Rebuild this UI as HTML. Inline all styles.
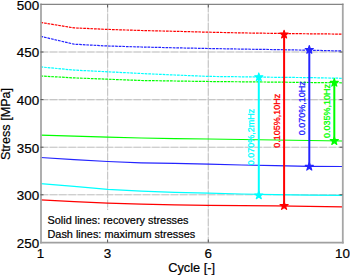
<!DOCTYPE html>
<html><head><meta charset="utf-8"><style>
html,body{margin:0;padding:0;background:#fff;}
body{width:350px;height:275px;overflow:hidden;}
svg{display:block;}
text{font-family:"Liberation Sans",sans-serif;}
</style></head><body>
<svg width="350" height="275" viewBox="0 0 350 275">
<rect x="0" y="0" width="350" height="275" fill="#fff"/>
<g stroke="#e2e2e2" stroke-width="1.1" fill="none"><line x1="40.5" y1="52.0" x2="342.5" y2="52.0"/><line x1="40.5" y1="99.6" x2="342.5" y2="99.6"/><line x1="40.5" y1="147.2" x2="342.5" y2="147.2"/><line x1="40.5" y1="194.8" x2="342.5" y2="194.8"/><line x1="107.6" y1="4.5" x2="107.6" y2="242.5"/><line x1="208.3" y1="4.5" x2="208.3" y2="242.5"/></g>
<g stroke="#c6c6c6" stroke-width="1.1" stroke-dasharray="7.5,1.8" fill="none"><line x1="40.5" y1="52.0" x2="342.5" y2="52.0"/><line x1="40.5" y1="99.6" x2="342.5" y2="99.6"/><line x1="40.5" y1="147.2" x2="342.5" y2="147.2"/><line x1="40.5" y1="194.8" x2="342.5" y2="194.8"/><line x1="107.6" y1="4.5" x2="107.6" y2="242.5"/><line x1="208.3" y1="4.5" x2="208.3" y2="242.5"/></g>
<polyline points="40.5,22.4 74.1,27.9 107.6,29.4 141.2,30.5 174.7,31.3 208.3,32.2 241.8,32.9 275.4,33.4 308.9,33.8 342.5,34.1" fill="none" stroke="#ff0000" stroke-width="1.2" stroke-dasharray="2.7,0.9"/>
<polyline points="40.5,36.3 74.1,44.2 107.6,46.0 141.2,47.0 174.7,47.8 208.3,48.5 241.8,49.1 275.4,49.6 308.9,50.2 342.5,51.0" fill="none" stroke="#2424ff" stroke-width="1.2" stroke-dasharray="2.7,0.9"/>
<polyline points="40.5,66.9 74.1,70.1 107.6,71.8 141.2,73.5 174.7,75.0 208.3,76.4 241.8,76.8 275.4,77.3 308.9,77.6 342.5,78.3" fill="none" stroke="#00ffff" stroke-width="1.2" stroke-dasharray="2.7,0.9"/>
<polyline points="40.5,76.0 74.1,77.9 107.6,79.2 141.2,80.5 174.7,81.0 208.3,81.5 241.8,81.8 275.4,82.1 308.9,82.5 342.5,82.8" fill="none" stroke="#00ff00" stroke-width="1.2" stroke-dasharray="2.7,0.9"/>
<polyline points="40.5,135.2 74.1,136.2 107.6,137.2 141.2,138.0 174.7,138.6 208.3,139.0 241.8,139.5 275.4,140.0 308.9,140.5 342.5,141.0" fill="none" stroke="#00ff00" stroke-width="1.2"/>
<polyline points="40.5,157.5 74.1,159.6 107.6,161.5 141.2,162.8 174.7,163.4 208.3,164.1 241.8,165.0 275.4,165.7 308.9,166.3 342.5,166.5" fill="none" stroke="#2424ff" stroke-width="1.2"/>
<polyline points="40.5,183.7 74.1,186.4 107.6,189.4 141.2,191.2 174.7,192.3 208.3,193.1 241.8,194.0 275.4,194.7 308.9,195.1 342.5,195.4" fill="none" stroke="#00ffff" stroke-width="1.2"/>
<polyline points="40.5,199.8 74.1,201.7 107.6,203.1 141.2,204.1 174.7,204.8 208.3,205.3 241.8,205.6 275.4,205.9 308.9,206.3 342.5,206.8" fill="none" stroke="#ff0000" stroke-width="1.2"/>
<rect x="41.5" y="210" width="158" height="32" fill="#fff"/>
<g fill="none" stroke-linecap="square"><line x1="41" y1="4.4" x2="41" y2="242.6" stroke="#a6a6a6" stroke-width="1.8"/><line x1="342.8" y1="4.4" x2="342.8" y2="242.6" stroke="#a6a6a6" stroke-width="1.8"/><line x1="41" y1="242.6" x2="342.8" y2="242.6" stroke="#a0a0a0" stroke-width="1.7"/><line x1="41" y1="4.4" x2="342.8" y2="4.4" stroke="#858585" stroke-width="1.2"/></g>
<g stroke="#555" stroke-width="1"><line x1="40.5" y1="52.0" x2="43.5" y2="52.0"/><line x1="339.5" y1="52.0" x2="342.5" y2="52.0"/><line x1="40.5" y1="99.6" x2="43.5" y2="99.6"/><line x1="339.5" y1="99.6" x2="342.5" y2="99.6"/><line x1="40.5" y1="147.2" x2="43.5" y2="147.2"/><line x1="339.5" y1="147.2" x2="342.5" y2="147.2"/><line x1="40.5" y1="194.8" x2="43.5" y2="194.8"/><line x1="339.5" y1="194.8" x2="342.5" y2="194.8"/><line x1="107.6" y1="242.5" x2="107.6" y2="239.5"/><line x1="107.6" y1="4.5" x2="107.6" y2="7.5"/><line x1="208.3" y1="242.5" x2="208.3" y2="239.5"/><line x1="208.3" y1="4.5" x2="208.3" y2="7.5"/></g>
<line x1="258.8" y1="77.2" x2="258.8" y2="195.3" stroke="#00ffff" stroke-width="2"/>
<polygon points="258.80,72.90 259.77,75.87 262.89,75.87 260.36,77.71 261.33,80.68 258.80,78.84 256.27,80.68 257.24,77.71 254.71,75.87 257.83,75.87" fill="#00ffff" stroke="#00ffff" stroke-width="1.1" stroke-linejoin="round"/>
<polygon points="258.80,191.00 259.77,193.97 262.89,193.97 260.36,195.81 261.33,198.78 258.80,196.94 256.27,198.78 257.24,195.81 254.71,193.97 257.83,193.97" fill="#00ffff" stroke="#00ffff" stroke-width="1.1" stroke-linejoin="round"/>
<text transform="translate(254.0,165.2) rotate(-90)" font-size="9" fill="#00ffff" stroke="#00ffff" stroke-width="0.3">0.070%,2mHz</text>
<line x1="284.1" y1="34.5" x2="284.1" y2="205.9" stroke="#ff0000" stroke-width="2"/>
<polygon points="284.10,30.20 285.07,33.17 288.19,33.17 285.66,35.01 286.63,37.98 284.10,36.14 281.57,37.98 282.54,35.01 280.01,33.17 283.13,33.17" fill="#ff0000" stroke="#ff0000" stroke-width="1.1" stroke-linejoin="round"/>
<polygon points="284.10,201.60 285.07,204.57 288.19,204.57 285.66,206.41 286.63,209.38 284.10,207.54 281.57,209.38 282.54,206.41 280.01,204.57 283.13,204.57" fill="#ff0000" stroke="#ff0000" stroke-width="1.1" stroke-linejoin="round"/>
<text transform="translate(279.5,147.7) rotate(-90)" font-size="9" fill="#ff0000" stroke="#ff0000" stroke-width="0.3">0.105%,10Hz</text>
<line x1="309.3" y1="49.8" x2="309.3" y2="166.6" stroke="#2424ff" stroke-width="2"/>
<polygon points="309.30,45.50 310.27,48.47 313.39,48.47 310.86,50.31 311.83,53.28 309.30,51.44 306.77,53.28 307.74,50.31 305.21,48.47 308.33,48.47" fill="#2424ff" stroke="#2424ff" stroke-width="1.1" stroke-linejoin="round"/>
<polygon points="309.30,162.30 310.27,165.27 313.39,165.27 310.86,167.11 311.83,170.08 309.30,168.24 306.77,170.08 307.74,167.11 305.21,165.27 308.33,165.27" fill="#2424ff" stroke="#2424ff" stroke-width="1.1" stroke-linejoin="round"/>
<text transform="translate(304.8,135.2) rotate(-90)" font-size="9" fill="#2424ff" stroke="#2424ff" stroke-width="0.3">0.070%,10Hz</text>
<line x1="334.3" y1="82.7" x2="334.3" y2="141.0" stroke="#00ff00" stroke-width="2"/>
<polygon points="334.30,78.40 335.27,81.37 338.39,81.37 335.86,83.21 336.83,86.18 334.30,84.34 331.77,86.18 332.74,83.21 330.21,81.37 333.33,81.37" fill="#00ff00" stroke="#00ff00" stroke-width="1.1" stroke-linejoin="round"/>
<polygon points="334.30,136.70 335.27,139.67 338.39,139.67 335.86,141.51 336.83,144.48 334.30,142.64 331.77,144.48 332.74,141.51 330.21,139.67 333.33,139.67" fill="#00ff00" stroke="#00ff00" stroke-width="1.1" stroke-linejoin="round"/>
<text transform="translate(329.8,138.1) rotate(-90)" font-size="9" fill="#00ff00" stroke="#00ff00" stroke-width="0.3">0.035%,10Hz</text>
<text x="47.5" y="223.7" font-size="10.9" fill="#000" stroke="#000" stroke-width="0.2">Solid lines: recovery stresses</text>
<text x="47.5" y="237.5" font-size="10.9" fill="#000" stroke="#000" stroke-width="0.2">Dash lines: maximum stresses</text>
<text x="39.2" y="9.8" font-size="13.4" text-anchor="end" fill="#000" stroke="#000" stroke-width="0.2">500</text>
<text x="39.2" y="57.4" font-size="13.4" text-anchor="end" fill="#000" stroke="#000" stroke-width="0.2">450</text>
<text x="39.2" y="105.0" font-size="13.4" text-anchor="end" fill="#000" stroke="#000" stroke-width="0.2">400</text>
<text x="39.2" y="152.6" font-size="13.4" text-anchor="end" fill="#000" stroke="#000" stroke-width="0.2">350</text>
<text x="39.2" y="200.2" font-size="13.4" text-anchor="end" fill="#000" stroke="#000" stroke-width="0.2">300</text>
<text x="39.2" y="247.8" font-size="13.4" text-anchor="end" fill="#000" stroke="#000" stroke-width="0.2">250</text>
<text x="40.5" y="257.9" font-size="13.4" text-anchor="middle" fill="#000" stroke="#000" stroke-width="0.2">1</text>
<text x="107.6" y="257.9" font-size="13.4" text-anchor="middle" fill="#000" stroke="#000" stroke-width="0.2">3</text>
<text x="208.3" y="257.9" font-size="13.4" text-anchor="middle" fill="#000" stroke="#000" stroke-width="0.2">6</text>
<text x="342.5" y="257.9" font-size="13.4" text-anchor="middle" fill="#000" stroke="#000" stroke-width="0.2">10</text>
<text x="191.7" y="271.7" font-size="12.8" text-anchor="middle" fill="#000" stroke="#000" stroke-width="0.2">Cycle [-]</text>
<text transform="translate(10.4,124) rotate(-90)" font-size="12.6" text-anchor="middle" fill="#000" stroke="#000" stroke-width="0.2">Stress [MPa]</text>
</svg>
</body></html>
